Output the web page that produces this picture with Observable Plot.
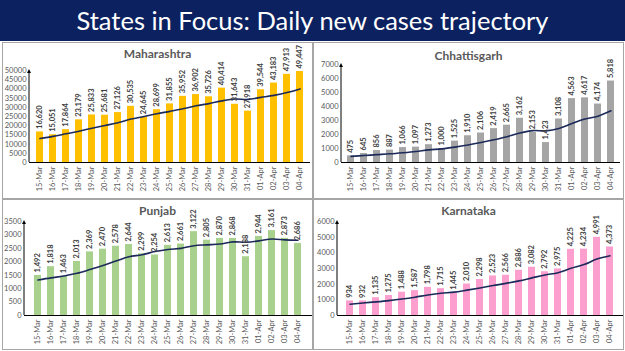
<!DOCTYPE html>
<html><head><meta charset="utf-8">
<script src="https://cdn.jsdelivr.net/npm/d3@7"></script>
<script src="https://cdn.jsdelivr.net/npm/@observablehq/plot@0.6"></script>
<style>
body{margin:0;width:625px;height:351px;background:#fff;position:relative;overflow:hidden;font-family:Lato,"Liberation Sans",sans-serif}
#banner{position:absolute;left:0;top:0;width:625px;height:41px;background:#0b2160;color:#fff;font-family:Lato,sans-serif;font-size:25.5px;text-align:center;line-height:40px}
.panel{position:absolute;border:1px solid #a6a6a6;box-sizing:border-box;overflow:hidden}
.ptitle{position:absolute;left:0;width:100%;text-align:center;font-weight:bold;font-size:12px;color:#595959;font-family:Lato,"Open Sans",sans-serif}
.panel svg{position:absolute;left:0;top:0}
</style></head><body>
<div id="banner">States in Focus: Daily new cases trajectory</div>
<div class="panel" id="p1" style="left:2px;top:42px;width:311px;height:157px"></div>
<div class="panel" id="p2" style="left:313px;top:42px;width:311px;height:157px"></div>
<div class="panel" id="p3" style="left:2px;top:199px;width:311px;height:151px"></div>
<div class="panel" id="p4" style="left:313px;top:199px;width:311px;height:151px"></div>
<script>
const dates = ["15-Mar","16-Mar","17-Mar","18-Mar","19-Mar","20-Mar","21-Mar","22-Mar","23-Mar","24-Mar","25-Mar","26-Mar","27-Mar","28-Mar","29-Mar","30-Mar","31-Mar","01-Apr","02-Apr","03-Apr","04-Apr"];

const maharashtra = [16620,15051,17864,23179,25833,25681,27126,30535,24645,28699,31855,35952,36902,35726,40414,31643,27918,39544,43183,47913,49447];
const maharashtraAvg = [13000,14200,15600,17000,18600,20100,21600,23600,25000,26500,27800,29200,30800,32000,33500,34500,34300,35400,36500,38000,40000];

const chhattisgarh = [475,645,856,887,1066,1097,1273,1000,1525,1910,2106,2419,2665,3162,2153,1423,3108,4563,4617,4174,5818];
const chhattisgarhAvg = [440,500,560,620,700,790,900,975,1100,1250,1425,1620,1840,2110,2280,2260,2430,2780,3100,3310,3690];

const punjab = [1492,1818,1463,2013,2369,2470,2578,2644,2299,2254,2613,2661,3122,2805,2870,2868,2188,2944,3161,2873,2686];
const punjabAvg = [1320,1400,1470,1570,1710,1860,2030,2190,2260,2380,2460,2500,2600,2630,2660,2740,2730,2780,2850,2815,2800];

const karnataka = [934,932,1135,1275,1488,1587,1798,1715,1445,2010,2298,2523,2566,2886,3082,2792,2975,4225,4234,4991,4373];
const karnatakaAvg = [720,800,870,950,1050,1170,1310,1420,1490,1620,1760,1910,2050,2210,2400,2590,2730,3010,3250,3600,3810];

const panels = [
  {id:"p1", name:"Maharashtra", values:maharashtra, avg:maharashtraAvg, color:"#ffc000", yMax:50000, yStep:5000, ml:26, mr:2, mt:27, mb:36, po:0.2, ty:3},
  {id:"p2", name:"Chhattisgarh", values:chhattisgarh, avg:chhattisgarhAvg, color:"#a5a5a5", yMax:7000, yStep:1000, ml:27, mr:3, mt:21, mb:36, po:0.2, ty:5},
  {id:"p3", name:"Punjab", values:punjab, avg:punjabAvg, color:"#a9d18e", yMax:3500, yStep:500, ml:21, mr:0, mt:21, mb:34, po:0.1, ty:3},
  {id:"p4", name:"Karnataka", values:karnataka, avg:karnatakaAvg, color:"#fc9fcf", yMax:6000, yStep:1000, ml:23, mr:0, mt:21, mb:34, po:0.1, ty:3}
];

const fmt = d3.format(",");
for (const p of panels) {
  const el = document.getElementById(p.id);
  const W = el.clientWidth, H = el.clientHeight;
  const rows = dates.map((d, i) => ({date: d, v: p.values[i], a: p.avg[i]}));
  const yAxisLine = (index, scales, values, dims) => {
    const x = dims.marginLeft, y1 = dims.height - dims.marginBottom, y0 = dims.marginTop - 1;
    const g = d3.create("svg:g");
    g.append("line").attr("x1", x).attr("x2", x).attr("y1", y1).attr("y2", y0 + 3).attr("stroke", "#000").attr("stroke-width", 1);
    g.append("path").attr("d", `M${x - 2},${y0 + 4}L${x},${y0}L${x + 2},${y0 + 4}Z`).attr("fill", "#000");
    return g.node();
  };
  const chart = Plot.plot({
    width: W, height: H,
    marginLeft: p.ml, marginRight: p.mr, marginTop: p.mt, marginBottom: p.mb,
    style: {fontFamily: "Lato, 'Liberation Sans', sans-serif", fontSize: "7.5px", color: "#595959", background: "transparent", overflow: "visible"},
    x: {type: "band", domain: dates, paddingInner: 0.45, paddingOuter: p.po, tickSize: 0, tickPadding: 4, tickRotate: -90, label: null},
    y: {domain: [0, p.yMax], ticks: d3.range(0, p.yMax + 1, p.yStep), tickSize: 0, tickPadding: 3, tickFormat: d => String(d), label: null},
    marks: [
      Plot.barY(rows, {x: "date", y: "v", fill: p.color}),
      Plot.line(rows, {x: "date", y: "a", stroke: "#1c2a59", strokeWidth: 1.6, curve: "catmull-rom"}),
      Plot.text(rows, {x: "date", y: "v", text: d => fmt(d.v), rotate: -90, textAnchor: "start", dy: -3, fontSize: 7.5, fontWeight: "bold", fill: "#404040"}),
      Plot.ruleY([0], {stroke: "#000"}),
      yAxisLine
    ]
  });
  el.appendChild(chart);
  const t = document.createElement("div");
  t.className = "ptitle";
  t.style.top = p.ty + "px";
  t.textContent = p.name;
  el.appendChild(t);
}
</script>
</body></html>
